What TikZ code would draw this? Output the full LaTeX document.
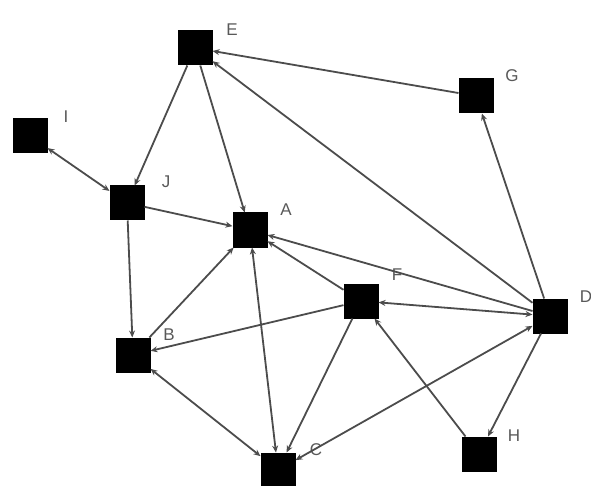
\documentclass[tikz,border=0pt]{standalone}
\usepackage{fontspec}
\setmainfont{Liberation Sans}
\usetikzlibrary{arrows.meta}
\begin{document}
\begin{tikzpicture}[x=1pt,y=-1pt,
  vert/.style={draw=none,fill=black,minimum size=35pt,inner sep=0pt,outer sep=0pt},
  lab/.style={text=black!65,font=\fontsize{17}{17}\selectfont,inner sep=0pt},
  edge/.style={draw=black!70,line width=1.8pt,-{Stealth[length=7pt,width=6pt]}},
  bi/.style={draw=black!70,line width=1.8pt,{Stealth[length=7pt,width=6pt]}-{Stealth[length=7pt,width=6pt]}}]
\useasboundingbox (0,0) rectangle (591,486);
\node[vert] (E) at (195,48) {};
\node[vert] (G) at (476,96) {};
\node[vert] (I) at (30,136) {};
\node[vert] (J) at (127,203) {};
\node[vert] (A) at (250,230) {};
\node[vert] (F) at (361,301) {};
\node[vert] (D) at (550,316) {};
\node[vert] (B) at (133,355) {};
\node[vert] (C) at (278,470) {};
\node[vert] (H) at (479,454) {};
\node[lab] (lE) at (232,30) {E};
\node[lab] (lG) at (512,76) {G};
\node[lab] (lI) at (66,117) {I};
\node[lab] (lJ) at (166,182) {J};
\node[lab] (lA) at (286,210) {A};
\node[lab] (lF) at (397,275) {F};
\node[lab] (lD) at (586,297) {D};
\node[lab] (lB) at (169,335) {B};
\node[lab] (lC) at (316,450) {C};
\node[lab] (lH) at (514,436) {H};
\draw[edge] (G) -- (E);
\draw[edge] (D) -- (E);
\draw[edge] (E) -- (J);
\draw[edge] (E) -- (A);
\draw[bi] (I) -- (J);
\draw[edge] (J) -- (A);
\draw[edge] (J) -- (B);
\draw[edge] (B) -- (A);
\draw[edge] (F) -- (B);
\draw[edge] (F) -- (A);
\draw[edge] (D) -- (A);
\draw[bi] (D) -- (F);
\draw[edge] (D) -- (G);
\draw[edge] (D) -- (H);
\draw[edge] (H) -- (F);
\draw[bi] (C) -- (D);
\draw[edge] (F) -- (C);
\draw[bi] (A) -- (C);
\draw[bi] (B) -- (C);
\end{tikzpicture}
\end{document}
